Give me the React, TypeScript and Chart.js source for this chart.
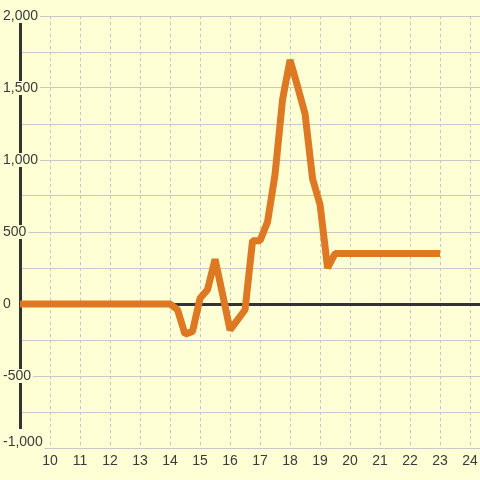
import React, { useEffect, useRef } from "react";
import { Chart, registerables } from "chart.js";

Chart.register(...registerables);

const hours = [9, 10, 11, 12, 13, 14, 14.25, 14.5, 14.75, 15, 15.25, 15.5, 15.75, 16, 16.25, 16.5, 16.75, 17, 17.25, 17.5, 17.75, 18, 18.25, 18.5, 18.75, 19, 19.25, 19.5, 20, 21, 22, 23];
const values = [0, 0, 0, 0, 0, 0, -40, -210, -190, 40, 100, 310, 70, -180, -110, -40, 440, 440, 570, 900, 1420, 1695, 1510, 1320, 870, 690, 250, 350, 350, 350, 350, 350];
const xTickValues = [10, 11, 12, 13, 14, 15, 16, 17, 18, 19, 20, 21, 22, 23, 24];
const yLabelStep = 500;

const BG = "#ffffd6";

function fmt(v: number): string {
  return v.toLocaleString("en-US");
}

const bottomLabelLift = {
  id: "bottomLabelLift",
  beforeDraw(chart: any) {
    const scale = chart.scales.y;
    if (!scale) return;
    const items = scale.getLabelItems(chart.chartArea);
    if (!items || !items.length) return;
    const first = items[0];
    if (first && !first._lifted) {
      first._lifted = true;
      first.options.translation[1] -= 6;
      if (first.options.backdrop) {
        first.options.backdrop.top -= 6;
        first.options.backdrop.height += 6;
      }
    }
  },
};

export default function App() {
  const ref = useRef<HTMLCanvasElement | null>(null);
  useEffect(() => {
    document.body.style.margin = "0";
    const ctx = ref.current;
    if (!ctx) return;
    const chart = new Chart(ctx, {
      type: "line",
      data: {
        datasets: [
          {
            data: hours.map((h, i) => ({ x: h, y: values[i] })),
            borderColor: "#de7822",
            borderWidth: 7,
            pointRadius: 0,
            tension: 0,
            fill: false,
            borderJoinStyle: "bevel",
          },
        ],
      },
      options: {
        animation: false,
        responsive: false,
        maintainAspectRatio: false,
        layout: { padding: { top: 16, left: 20, right: 0, bottom: 0 } },
        plugins: { legend: { display: false }, tooltip: { enabled: false } },
        scales: {
          x: {
            type: "linear",
            min: 9,
            max: 24.33,
            afterBuildTicks: (scale: any) => {
              scale.ticks = xTickValues.map((v) => ({ value: v }));
            },
            afterFit: (scale: any) => {
              scale.paddingRight = 0;
              scale.paddingLeft = 0;
              scale.height = 32;
            },
            ticks: {
              includeBounds: false,
              stepSize: 1,
              padding: 5,
              color: "#3a3a3a",
              font: { family: "'Liberation Sans', Arial, sans-serif", size: 14 },
              callback: (v: any) => String(v),
              maxRotation: 0,
              autoSkip: false,
            },
            grid: {
              color: "#c4c4c4",
              lineWidth: 1,
              drawTicks: false,
            },
            border: { display: false, dash: [3, 3] },
          },
          y: {
            type: "linear",
            min: -1000,
            max: 2000,
            afterFit: (scale: any) => {
              scale.width = 0;
              scale.paddingTop = 0;
              scale.paddingBottom = 0;
            },
            ticks: {
              stepSize: 250,
              mirror: true,
              crossAlign: "near",
              padding: -17,
              color: "#3a3a3a",
              font: { family: "'Liberation Sans', Arial, sans-serif", size: 14, lineHeight: 1 },
              callback: (v: any) => (Number(v) % yLabelStep === 0 ? fmt(Number(v)) : ""),
              showLabelBackdrop: true,
              backdropColor: (c: any) => (c.tick && c.tick.value % yLabelStep === 0 ? BG : "rgba(0,0,0,0)"),
              backdropPadding: { top: 0, bottom: 0, left: 2, right: 2 },
            },
            grid: {
              color: (c: any) => (c.tick && c.tick.value === 0 ? "#333333" : "#c8c8c8"),
              lineWidth: (c: any) => (c.tick && c.tick.value === 0 ? 3 : 1),
              drawTicks: false,
            },
            border: { display: true, color: "#333333", width: 3 },
          },
        },
      },
      plugins: [bottomLabelLift],
    });
    return () => chart.destroy();
  }, []);
  return (
    <div style={{ width: 480, height: 480, background: BG }}>
      <canvas ref={ref} width={480} height={480} style={{ display: "block" }} />
    </div>
  );
}
